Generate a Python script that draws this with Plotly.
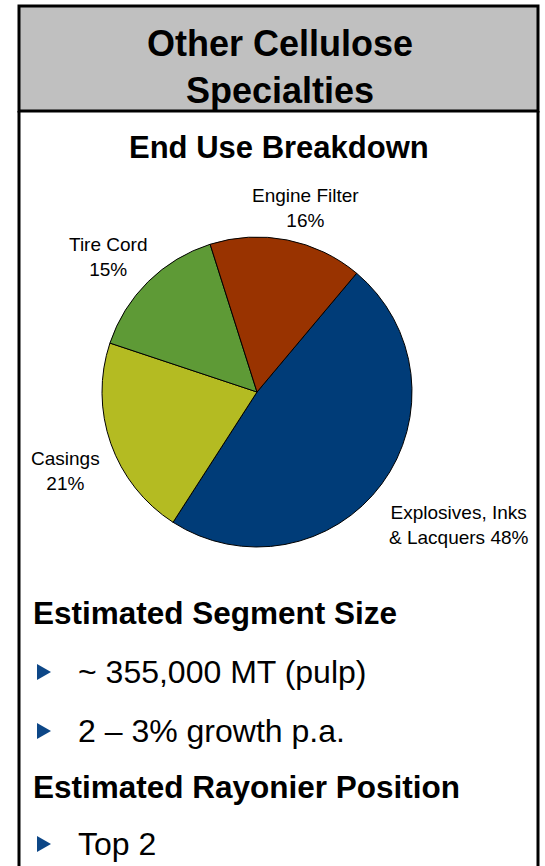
import plotly.graph_objects as go

W, H = 545, 866

# data
segments = ["Explosives, Inks<br>& Lacquers", "Casings", "Tire Cord", "Engine Filter"]
shares = [48, 21, 15, 16]
label_sep = [" ", "<br>", "<br>", "<br>"]
colors = ["#003C78", "#B4BB22", "#5E9A36", "#993300"]

title_lines = ["Other Cellulose", "Specialties"]
subtitle = "End Use Breakdown"
sections = [
    ("Estimated Segment Size", ["~ 355,000 MT (pulp)", "2 \u2013 3% growth p.a."]),
    ("Estimated Rayonier Position", ["Top 2"]),
]

FONT = "Liberation Sans, Arial, sans-serif"


def px(x):
    return x / W


def py(y):
    return 1 - y / H


# pie sits at centre (257, 392), radius ~155 px
cx, cy, r = 257, 392, 155

fig = go.Figure()
fig.add_trace(go.Pie(
    labels=segments,
    values=shares,
    sort=False,
    direction="clockwise",
    rotation=40,
    marker=dict(colors=colors, line=dict(color="black", width=1)),
    textinfo="none",
    hoverinfo="label+percent",
    showlegend=False,
    domain=dict(x=[px(cx - r), px(cx + r)], y=[py(cy + r), py(cy - r)]),
))

# header box and body frame
shapes = [
    dict(type="rect", xref="paper", yref="paper",
         x0=px(19), x1=px(538), y0=py(111), y1=py(6),
         fillcolor="#C0C0C0", line=dict(color="black", width=3), layer="below"),
    dict(type="line", xref="paper", yref="paper",
         x0=px(19), x1=px(19), y0=py(111), y1=py(H + 5),
         line=dict(color="black", width=3)),
    dict(type="line", xref="paper", yref="paper",
         x0=px(538), x1=px(538), y0=py(111), y1=py(H + 5),
         line=dict(color="black", width=3)),
]


def note(text, x, y, size, xanchor="center", align="center"):
    return dict(text=text, x=px(x), y=py(y), xref="paper", yref="paper",
                xanchor=xanchor, yanchor="middle", align=align, showarrow=False,
                font=dict(family=FONT, size=size, color="black"))


annotations = [
    note("<b>" + "<br>".join(title_lines) + "</b>", 280, 67, 36),
    note("<b>" + subtitle + "</b>", 279, 147, 31),
]

# outside slice labels
label_pos = [(459, 525), (65, 471), (108, 257), (305, 208)]
for seg, v, sep, (lx, ly) in zip(segments, shares, label_sep, label_pos):
    annotations.append(note(f"{seg}{sep}{v}%", lx, ly, 19))

# text block with bullet triangles
head_y = [613, 787]
item_y = [[672, 731], [844]]
for (head, items), hy, iys in zip(sections, head_y, item_y):
    annotations.append(note("<b>" + head + "</b>", 31, hy, 31.5, xanchor="left", align="left"))
    for it, iy in zip(items, iys):
        annotations.append(note(it, 76, iy, 32, xanchor="left", align="left"))
        shapes.append(dict(
            type="path", xref="paper", yref="paper",
            path=f"M {px(37)} {py(iy - 8)} L {px(51)} {py(iy)} L {px(37)} {py(iy + 8)} Z",
            fillcolor="#0D4787", line=dict(width=0)))

fig.update_layout(
    width=W, height=H,
    margin=dict(l=0, r=0, t=0, b=0),
    paper_bgcolor="white",
    plot_bgcolor="white",
    shapes=shapes,
    annotations=annotations,
)

fig.write_html("out.html", config={"displayModeBar": False},
               post_script="document.body.style.margin='0';")
